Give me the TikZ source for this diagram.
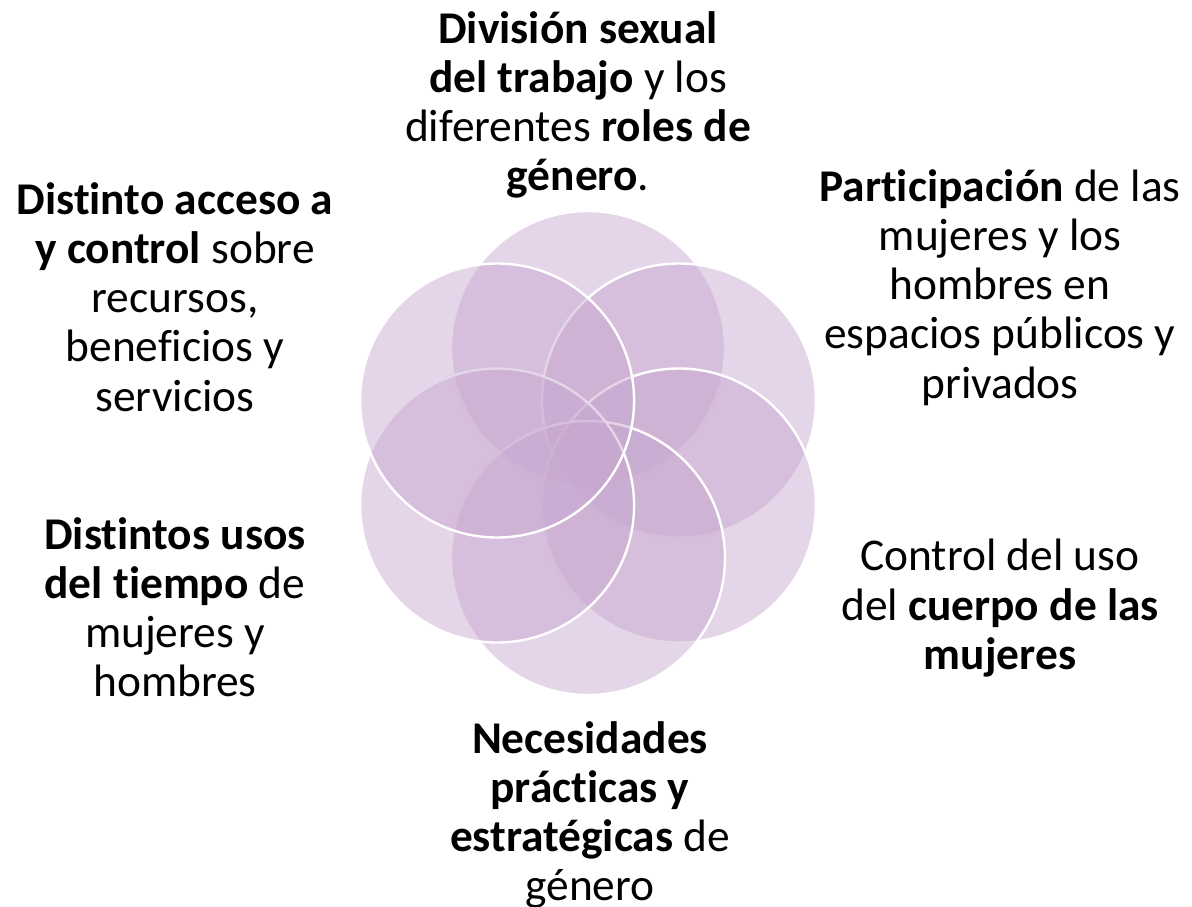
\documentclass[tikz,border=0pt]{standalone}
\usepackage{fontspec}
\setmainfont{Carlito}[Ligatures=NoCommon]
\usepackage{xcolor}
\usepackage{tikz}
\usetikzlibrary{positioning, calc}
\definecolor{petalpurple}{RGB}{198, 166, 206}

\begin{document}
\begin{tikzpicture}[x=0.5pt, y=-0.5pt,
        petal/.style={fill=petalpurple, fill opacity=0.47, draw=white, draw opacity=1, line width=1.2pt},
        label/.style={align=center, inner sep=0pt, anchor=north, font=\fontsize{22.7}{24.6}\selectfont}]
        \useasboundingbox (0,0) rectangle (1192,906);
        \coordinate (mid) at (588,453);
        \foreach \ang in {-90, -30, 30, 90, 150, 210} {
            \draw[petal] ($(mid)+(\ang:105)$) circle[radius=68.5pt];
        }
        \node[label] (division) at (578,11) {
            \textbf{División sexual} \\
            \textbf{del trabajo} y los \\
            diferentes \textbf{roles de} \\
            \textbf{género}.
        };
        \node[label] (acceso) at (175,182) {
            \textbf{Distinto acceso a} \\
            \textbf{y control} sobre \\
            recursos, \\
            beneficios y \\
            servicios
        };
        \node[label] (participacion) at (1000,169) {
            \textbf{Participación} de las \\
            mujeres y los \\
            hombres en \\
            espacios públicos y \\
            privados
        };
        \node[label] (usos) at (175,517) {
            \textbf{Distintos usos} \\
            \textbf{del tiempo} de \\
            mujeres y \\
            hombres
        };
        \node[label] (cuerpo) at (1000,539) {
            Control del uso \\
            del \textbf{cuerpo de las} \\
            \textbf{mujeres}
        };
        \node[label] (necesidades) at (590,721) {
            \textbf{Necesidades} \\
            \textbf{prácticas y} \\
            \textbf{estratégicas} de \\
            género
        };
    \end{tikzpicture}
\end{document}
